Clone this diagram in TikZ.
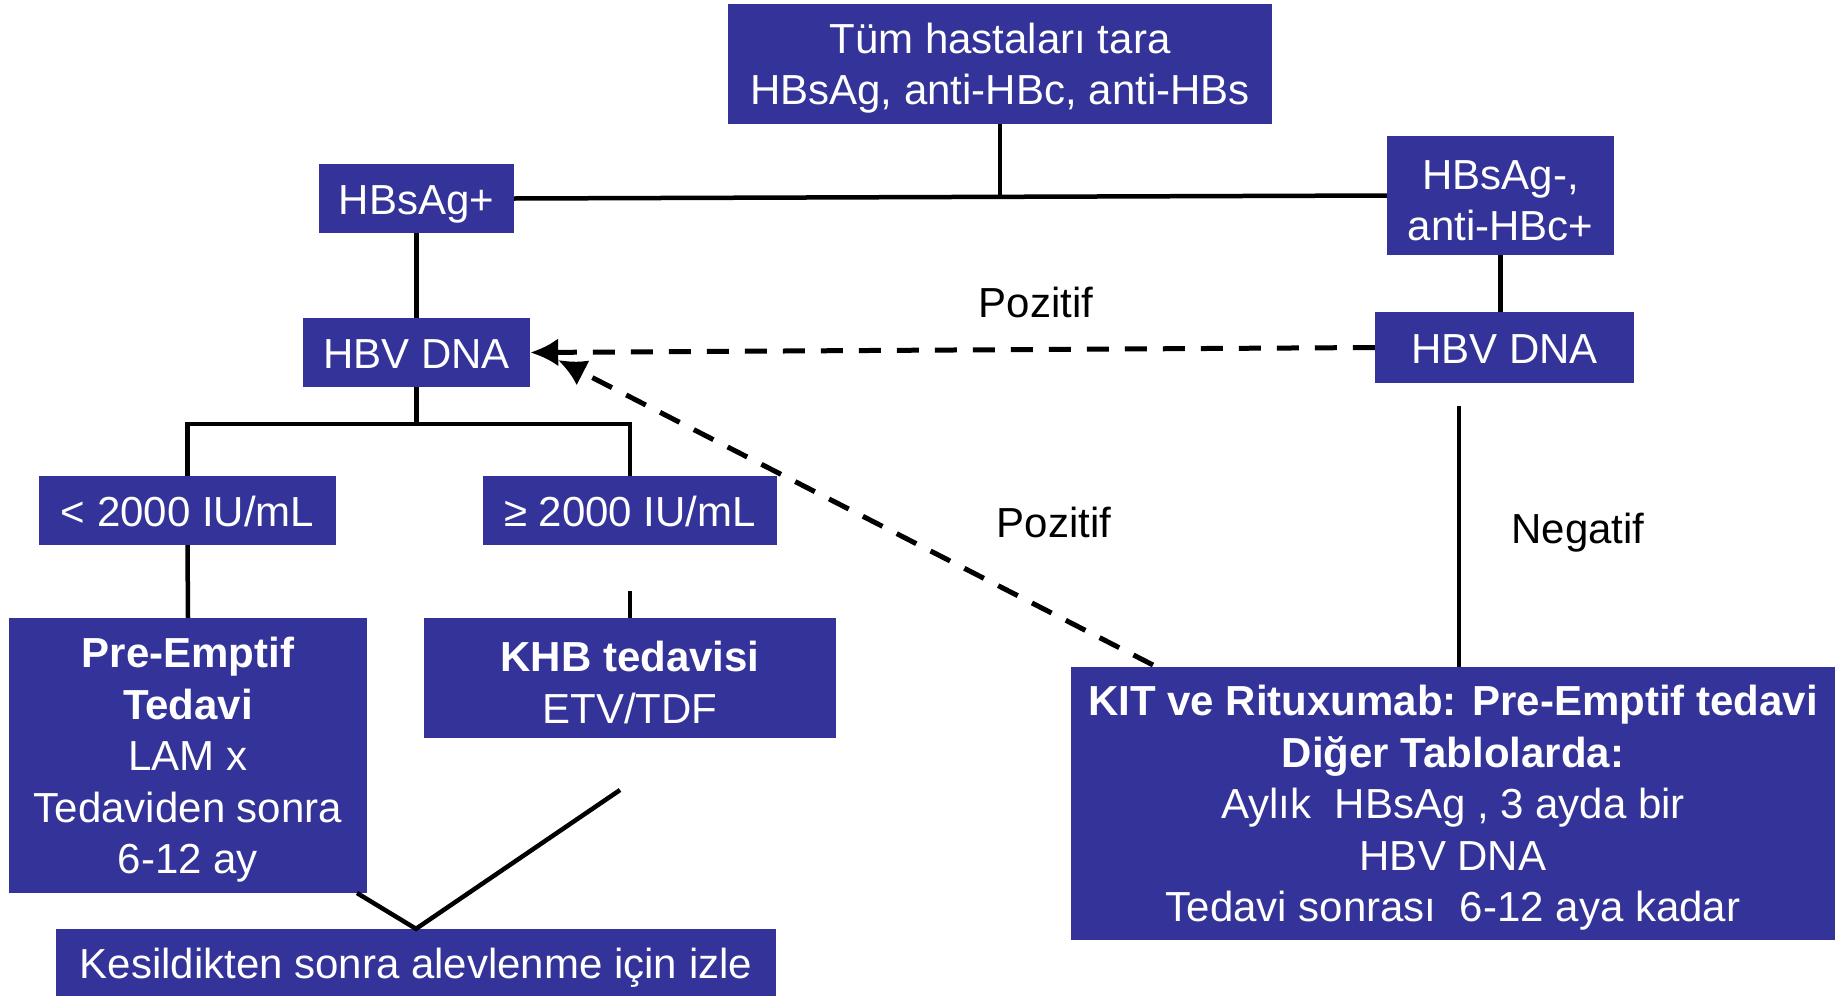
\documentclass[tikz,border=0pt]{standalone}
\usepackage{fontspec}
\setmainfont{Liberation Sans}
\usetikzlibrary{arrows.meta}
\definecolor{boxblue}{HTML}{333399}
\newcommand{\upstrut}{\rule{0pt}{39pt}}
\begin{document}
\begin{tikzpicture}[x=1pt, y=-1pt,
  box/.style={fill=boxblue, text=white, align=center, inner sep=0pt, font=\fontsize{42}{51.5}\selectfont},
  onebox/.style={box, execute at begin node={\rule{0pt}{41pt}}, execute at end node={\rule[-10pt]{0pt}{0pt}}},
  link/.style={line width=4.5pt},
  dashlink/.style={line width=5pt, dash pattern=on 22pt off 16pt, -{Latex[length=28pt,width=28pt]}},
  lbl/.style={font=\fontsize{42}{51.5}\selectfont}]
\useasboundingbox (0,0) rectangle (1835,996);
% boxes
\node[box, minimum width=544pt, minimum height=120pt] (top) at (1000,64) {\upstrut Tüm hastaları tara\\HBsAg, anti-HBc, anti-HBs};
\node[onebox, minimum width=195pt, minimum height=69pt] (hbsagpos) at (416.5,198.5) {HBsAg+};
\node[box, minimum width=227pt, minimum height=119pt] (hbsagneg) at (1500.5,195.5) {\upstrut HBsAg-,\\anti-HBc+};
\node[onebox, minimum width=227pt, minimum height=69pt] (dnaL) at (416.5,352.5) {HBV DNA};
\node[onebox, minimum width=259pt, minimum height=71pt] (dnaR) at (1504.5,347.5) {HBV DNA};
\node[onebox, minimum width=297pt, minimum height=69pt] (low) at (187.5,510.5) {< 2000 IU/mL};
\node[onebox, minimum width=294pt, minimum height=69pt] (high) at (630,510.5) {≥ 2000 IU/mL};
\node[box, minimum width=358pt, minimum height=275pt] (pre) at (188,755.5) {\upstrut\textbf{Pre-Emptif}\\\textbf{Tedavi}\\LAM x\\Tedaviden sonra\\6-12 ay};
\node[box, minimum width=412pt, minimum height=120pt] (khb) at (630,678) {\upstrut\textbf{KHB tedavisi}\\ETV/TDF};
\node[box, minimum width=764pt, minimum height=273pt] (kit) at (1453,803.5) {\upstrut\textbf{KIT ve Rituxumab: Pre-Emptif tedavi}\\\textbf{Diğer Tablolarda:}\\Aylık~ HBsAg , 3 ayda bir\\HBV DNA\\Tedavi sonrası~ 6-12 aya kadar};
\node[onebox, minimum width=720pt, minimum height=67pt] (izle) at (416,962.5) {Kesildikten sonra alevlenme için izle};
% labels
\node[lbl] (pozA) at (1036,302) {Pozitif};
\node[lbl] (pozB) at (1054,522) {Pozitif};
\node[lbl] (neg) at (1578,533) {Negatif};
% connectors
\coordinate (bar) at (416.5,424);
\coordinate (khbin) at (630,591);
\coordinate (negtop) at (1459,406);
\coordinate (kitdash) at (1153,665);
\coordinate (tipB) at (558,360);
\coordinate (vL) at (357,893);
\coordinate (vR) at (620,790);
\draw[link] (hbsagpos.east) -- (hbsagneg.west);
\draw[link] (top.south) -- (top.south |- hbsagpos.east);
\draw[link] (hbsagpos.south) -- (dnaL.north);
\draw[link] (dnaL.south) -- (bar);
\draw[link] (low.north) |- (bar) -| (high.north);
\draw[link] (low.south) -- (pre.north);
\draw[link] (khbin) -- (khb.north);
\draw[link] (hbsagneg.south) -- (hbsagneg.south |- dnaR.north);
\draw[link] (negtop) -- (negtop |- kit.north);
\draw[link] (vL) -- (izle.north) -- (vR);
\draw[dashlink] (dnaR.west) -- (dnaL.east);
\draw[dashlink] (kitdash) -- (tipB);
\end{tikzpicture}
\end{document}
